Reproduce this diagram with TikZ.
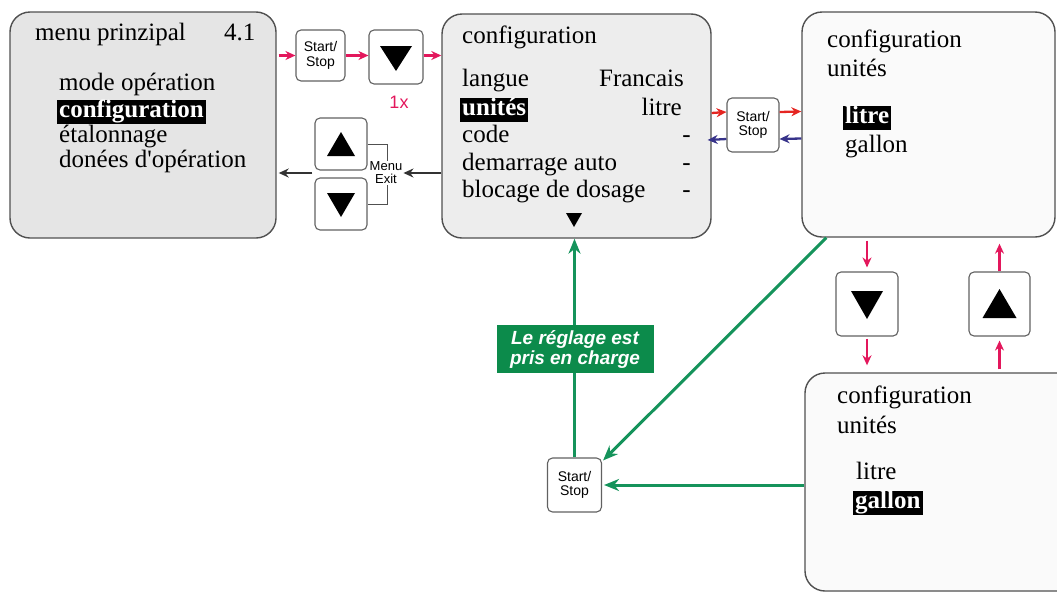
\documentclass[tikz,border=0pt]{standalone}
\usepackage{fontspec}
\setmainfont{Liberation Serif}
\setsansfont{Liberation Sans}
\usetikzlibrary{arrows.meta,calc}
\definecolor{pinkred}{HTML}{E3175C}
\definecolor{brightred}{HTML}{E52521}
\definecolor{navy}{HTML}{37338A}
\definecolor{grn}{HTML}{15935B}
\definecolor{grnfill}{HTML}{0C8B4B}
\definecolor{boxline}{HTML}{505050}
\tikzset{
  screen/.style={draw=boxline, line width=1.4pt, rounded corners=20pt, inner sep=0pt},
  btn/.style={draw=boxline!90, line width=1.1pt, rounded corners=5pt, fill=white, inner sep=0pt, align=center},
  sstxt/.style={font=\sffamily\fontsize{14}{14.5}\selectfont},
  txt/.style={anchor=base west, inner sep=0pt, font=\fontsize{25}{27}\selectfont},
  txtr/.style={anchor=base east, inner sep=0pt, font=\fontsize{25}{27}\selectfont},
  hl/.style={anchor=base west, fill=black, text=white, font=\fontsize{25}{27}\selectfont\bfseries, inner xsep=2pt, inner ysep=0pt, text height=17pt, text depth=7pt},
  parrow/.style={draw=pinkred, line width=2.3pt, -{Stealth[length=10pt,width=9pt]}},
  rarrow/.style={draw=brightred, line width=2.3pt, -{Stealth[length=10pt,width=9pt]}},
  narrow/.style={draw=navy, line width=2.3pt, -{Stealth[length=10pt,width=9pt]}},
  karrow/.style={draw=black!80, line width=2pt, -{Stealth[length=10pt,width=9pt]}},
  garrow/.style={draw=grn, line width=3pt, -{Stealth[length=15pt,width=12pt]}},
}
\begin{document}
\begin{tikzpicture}[x=1pt,y=-1pt]
\useasboundingbox (0,0) rectangle (1057,592);
\begin{scope}
\clip (0,0) rectangle (1057,592);
% screens
\node[screen, fill=black!10, minimum width=266pt, minimum height=226pt] (main) at (143,125) {};
\node[screen, fill=black!7, minimum width=269pt, minimum height=224pt] (conf) at (576.5,126) {};
\node[screen, fill=black!2, minimum width=253pt, minimum height=225pt] (unitA) at (928.5,124.5) {};
\node[screen, fill=black!2, minimum width=275pt, minimum height=218pt] (unitB) at (942.5,482) {};
\end{scope}

% main menu texts
\node[txt] (m0) at (35,40) {menu prinzipal};
\node[txt] (m0v) at (224,40) {4.1};
\node[txt] (m1) at (59,90) {mode opération};
\node[hl]  (m2) at (57,117) {configuration};
\node[txt] (m3) at (59,142) {étalonnage};
\node[txt] (m4) at (59,167) {donées d\textquotesingle opération};

% configuration texts
\node[txt] (c0) at (462,43) {configuration};
\node[txt] (c1) at (462,86) {langue};
\node[txtr] (c1v) at (684,86) {Francais};
\node[hl]  (c2) at (460,115) {unités};
\node[txtr] (c2v) at (682,115) {litre};
\node[txt] (c3) at (462,142) {code};
\node[txtr] (c3v) at (691,142) {-};
\node[txt] (c4) at (462,170) {demarrage auto};
\node[txtr] (c4v) at (691,170) {-};
\node[txt] (c5) at (462,197) {blocage de dosage};
\node[txtr] (c5v) at (691,197) {-};
\coordinate (ctri) at (574,220);
\fill ($(ctri)+(-8,-7)$) -- ($(ctri)+(8,-7)$) -- ($(ctri)+(0,7)$) -- cycle;

% unit screen A
\node[txt] (a0) at (827,47) {configuration};
\node[txt] (a1) at (827,76) {unités};
\node[hl]  (a2) at (843,123) {litre};
\node[txt] (a3) at (845,152) {gallon};

% unit screen B
\node[txt] (b0) at (837,403) {configuration};
\node[txt] (b1) at (837,433) {unités};
\node[txt] (b2) at (856,479) {litre};
\node[hl]  (b3) at (853,508) {gallon};

% buttons
\node[btn, sstxt, minimum width=49pt, minimum height=51pt] (ss1) at (320.5,55.5) {Start/\\Stop};
\node[btn, minimum width=54pt, minimum height=54pt] (dn1) at (396,57) {};
\fill ($(dn1)+(-16,-11)$) -- ($(dn1)+(16,-11)$) -- ($(dn1)+(0,14)$) -- cycle;
\node[text=pinkred, font=\sffamily\fontsize{18}{18}\selectfont, anchor=base, inner sep=0pt] (onex) at (399,108) {1x};

\node[btn, minimum width=52pt, minimum height=52pt] (up2) at (341,144) {};
\fill ($(up2)+(-14,12)$) -- ($(up2)+(14,12)$) -- ($(up2)+(0,-12)$) -- cycle;
\node[btn, minimum width=52pt, minimum height=52pt] (dn2) at (341,204) {};
\fill ($(dn2)+(-14,-11)$) -- ($(dn2)+(14,-11)$) -- ($(dn2)+(0,13)$) -- cycle;
\draw[boxline, line width=1pt] (up2.east) -- ++(20,0) |- (dn2.east);
\node[fill=white, inner sep=1pt, align=center, font=\sffamily\fontsize{13}{13}\selectfont] (me) at (386,173) {Menu\\Exit};

\node[btn, sstxt, minimum width=52pt, minimum height=54pt] (ss2) at (753,125) {Start/\\Stop};

\node[btn, minimum width=62pt, minimum height=64pt] (dn3) at (867,304) {};
\fill ($(dn3)+(-16,-13)$) -- ($(dn3)+(16,-13)$) -- ($(dn3)+(0,15)$) -- cycle;
\node[btn, minimum width=61pt, minimum height=64pt] (up3) at (999.5,304) {};
\fill ($(up3)+(-17,14)$) -- ($(up3)+(17,14)$) -- ($(up3)+(0,-15)$) -- cycle;

\node[btn, sstxt, minimum width=54pt, minimum height=54pt] (ss3) at (574.5,485) {Start/\\Stop};

% top arrows
\draw[parrow] ($(main.east |- ss1.west)+(2,0)$) -- (ss1.west);
\draw[parrow] (ss1.east) -- (ss1.east -| dn1.west);
\draw[parrow] (dn1.east |- ss1.east) -- (conf.west |- ss1.east);
\draw[karrow] (conf.west |- me.east) -- (me.east);
\draw[karrow] ($(up2.west |- me.west)+(-2,0)$) -- ($(main.east |- me.west)+(2,0)$);

% start/stop 2 arrows
\draw[rarrow] ($(conf.east)+(0,-13)$) -- ($(ss2.west)+(0,-13)$);
\draw[rarrow] ($(ss2.east)+(0,-13)$) -- ($(unitA.west)+(0,-13)$);
\draw[narrow] ($(unitA.west)+(0,14)$) -- ($(ss2.east)+(0,14)$);
\draw[narrow] ($(ss2.west)+(0,14)$) -- ($(conf.east)+(-4,14)$);

% up/down arrows on the right
\draw[parrow, shorten <=3pt, shorten >=4pt] (unitA.south -| dn3.north) -- (dn3.north);
\draw[parrow, shorten <=2pt, shorten >=7pt] (dn3.south) -- (dn3.south |- unitB.north);
\draw[parrow, shorten <=3pt, shorten >=4pt] (unitB.north -| up3.south) -- (up3.south);
\draw[parrow, shorten >=6pt] (up3.north) -- (up3.north |- unitA.south);

% green arrows
\draw[garrow] (ss3.north) -- (ss3.north |- conf.south);
\draw[garrow] ($(unitA.south west)+(25,0)$) -- ($(ss3.north east)+(1,3)$);
\draw[garrow] (unitB.west |- ss3.east) -- ($(ss3.east)+(2,0)$);
\node[fill=grnfill, text=white, inner sep=0pt, minimum width=157pt, minimum height=48pt, align=center,
      font=\sffamily\bfseries\itshape\fontsize{19}{20}\selectfont] (lbl) at (575,349) {Le réglage est\\pris en charge};
\end{tikzpicture}
\end{document}
